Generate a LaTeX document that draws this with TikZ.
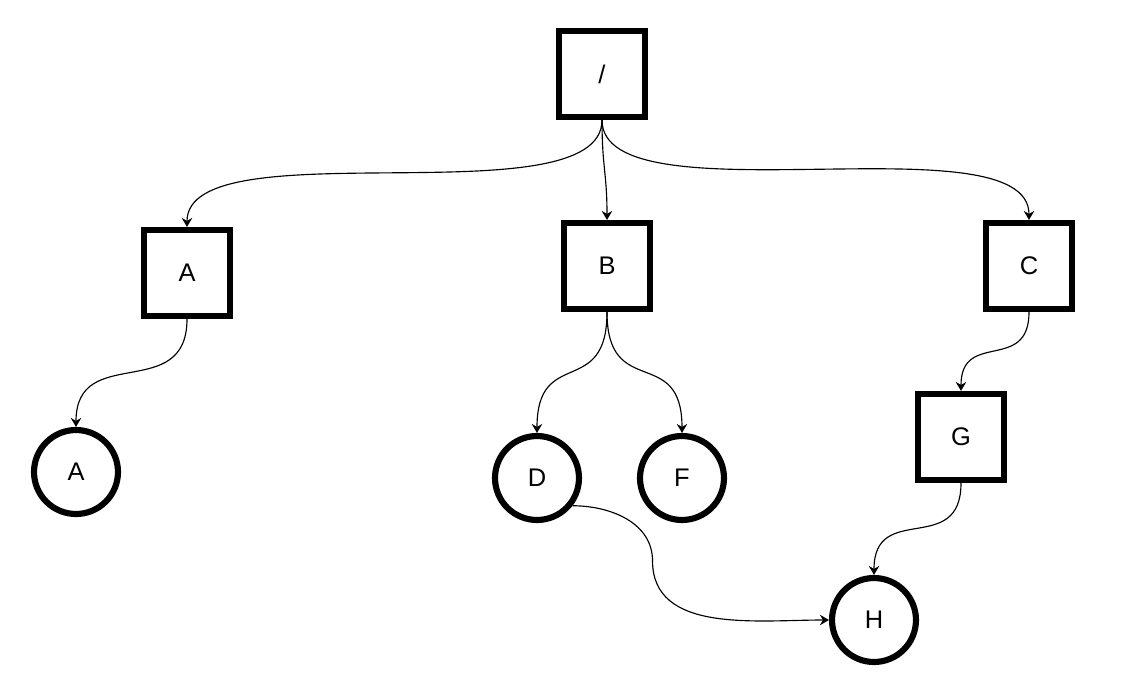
\documentclass[tikz,border=0pt]{standalone}
\usepackage{fontspec}
\setmainfont{Liberation Sans}
\usetikzlibrary{arrows.meta,positioning}
\tikzset{
  dirbox/.style={draw=black, line width=3.5pt, minimum size=1.72cm,
    inner sep=0pt, font=\fontsize{14.5}{16}\selectfont},
  filenode/.style={draw=black, circle, line width=3.5pt, minimum size=1.68cm,
    inner sep=0pt, font=\fontsize{14.5}{16}\selectfont},
  link/.style={-{Stealth[length=1.8mm,width=2.1mm,inset=0.6mm]},
    line width=0.65pt, out=-90, in=90}
}

\begin{document}
\begin{tikzpicture}[x=0.02cm,y=-0.02cm]
  % page frame, in pixels of the 1147x687 sketch
  \useasboundingbox (0,0) rectangle (1147,687);
  % directories
  \node[dirbox] (root) at (602,74) {/};
  \node[dirbox] (dirA) at (187,273) {A};
  \node[dirbox] (dirB) at (607,266) {B};
  \node[dirbox] (dirC) at (1029,266) {C};
  \node[dirbox] (dirG) at (961,437) {G};
  % files
  \node[filenode] (fileA) at (76,472) {A};
  \node[filenode] (fileD) at (537,478) {D};
  \node[filenode] (fileF) at (682,478) {F};
  \node[filenode] (fileH) at (874,620) {H};
  % links
  \draw[link,looseness=0.6] (root.south) to (dirA.north);
  \draw[link,looseness=1.2] (root.south) to (dirB.north);
  \draw[link,looseness=0.6] (root.south) to (dirC.north);
  \draw[link,looseness=1.4] (dirA.south) to (fileA.north);
  \draw[link,looseness=1.6] (dirB.south) to (fileD.north);
  \draw[link,looseness=1.6] (dirB.south) to (fileF.north);
  \draw[link,looseness=1.5] (dirC.south) to (dirG.north);
  \draw[link,looseness=1.5] (dirG.south) to (fileH.north);
  \draw[link] (fileD.-38) to[out=0,in=90] ++(80,55)
    to[out=-90,in=180] (fileH.west);
\end{tikzpicture}
\end{document}
